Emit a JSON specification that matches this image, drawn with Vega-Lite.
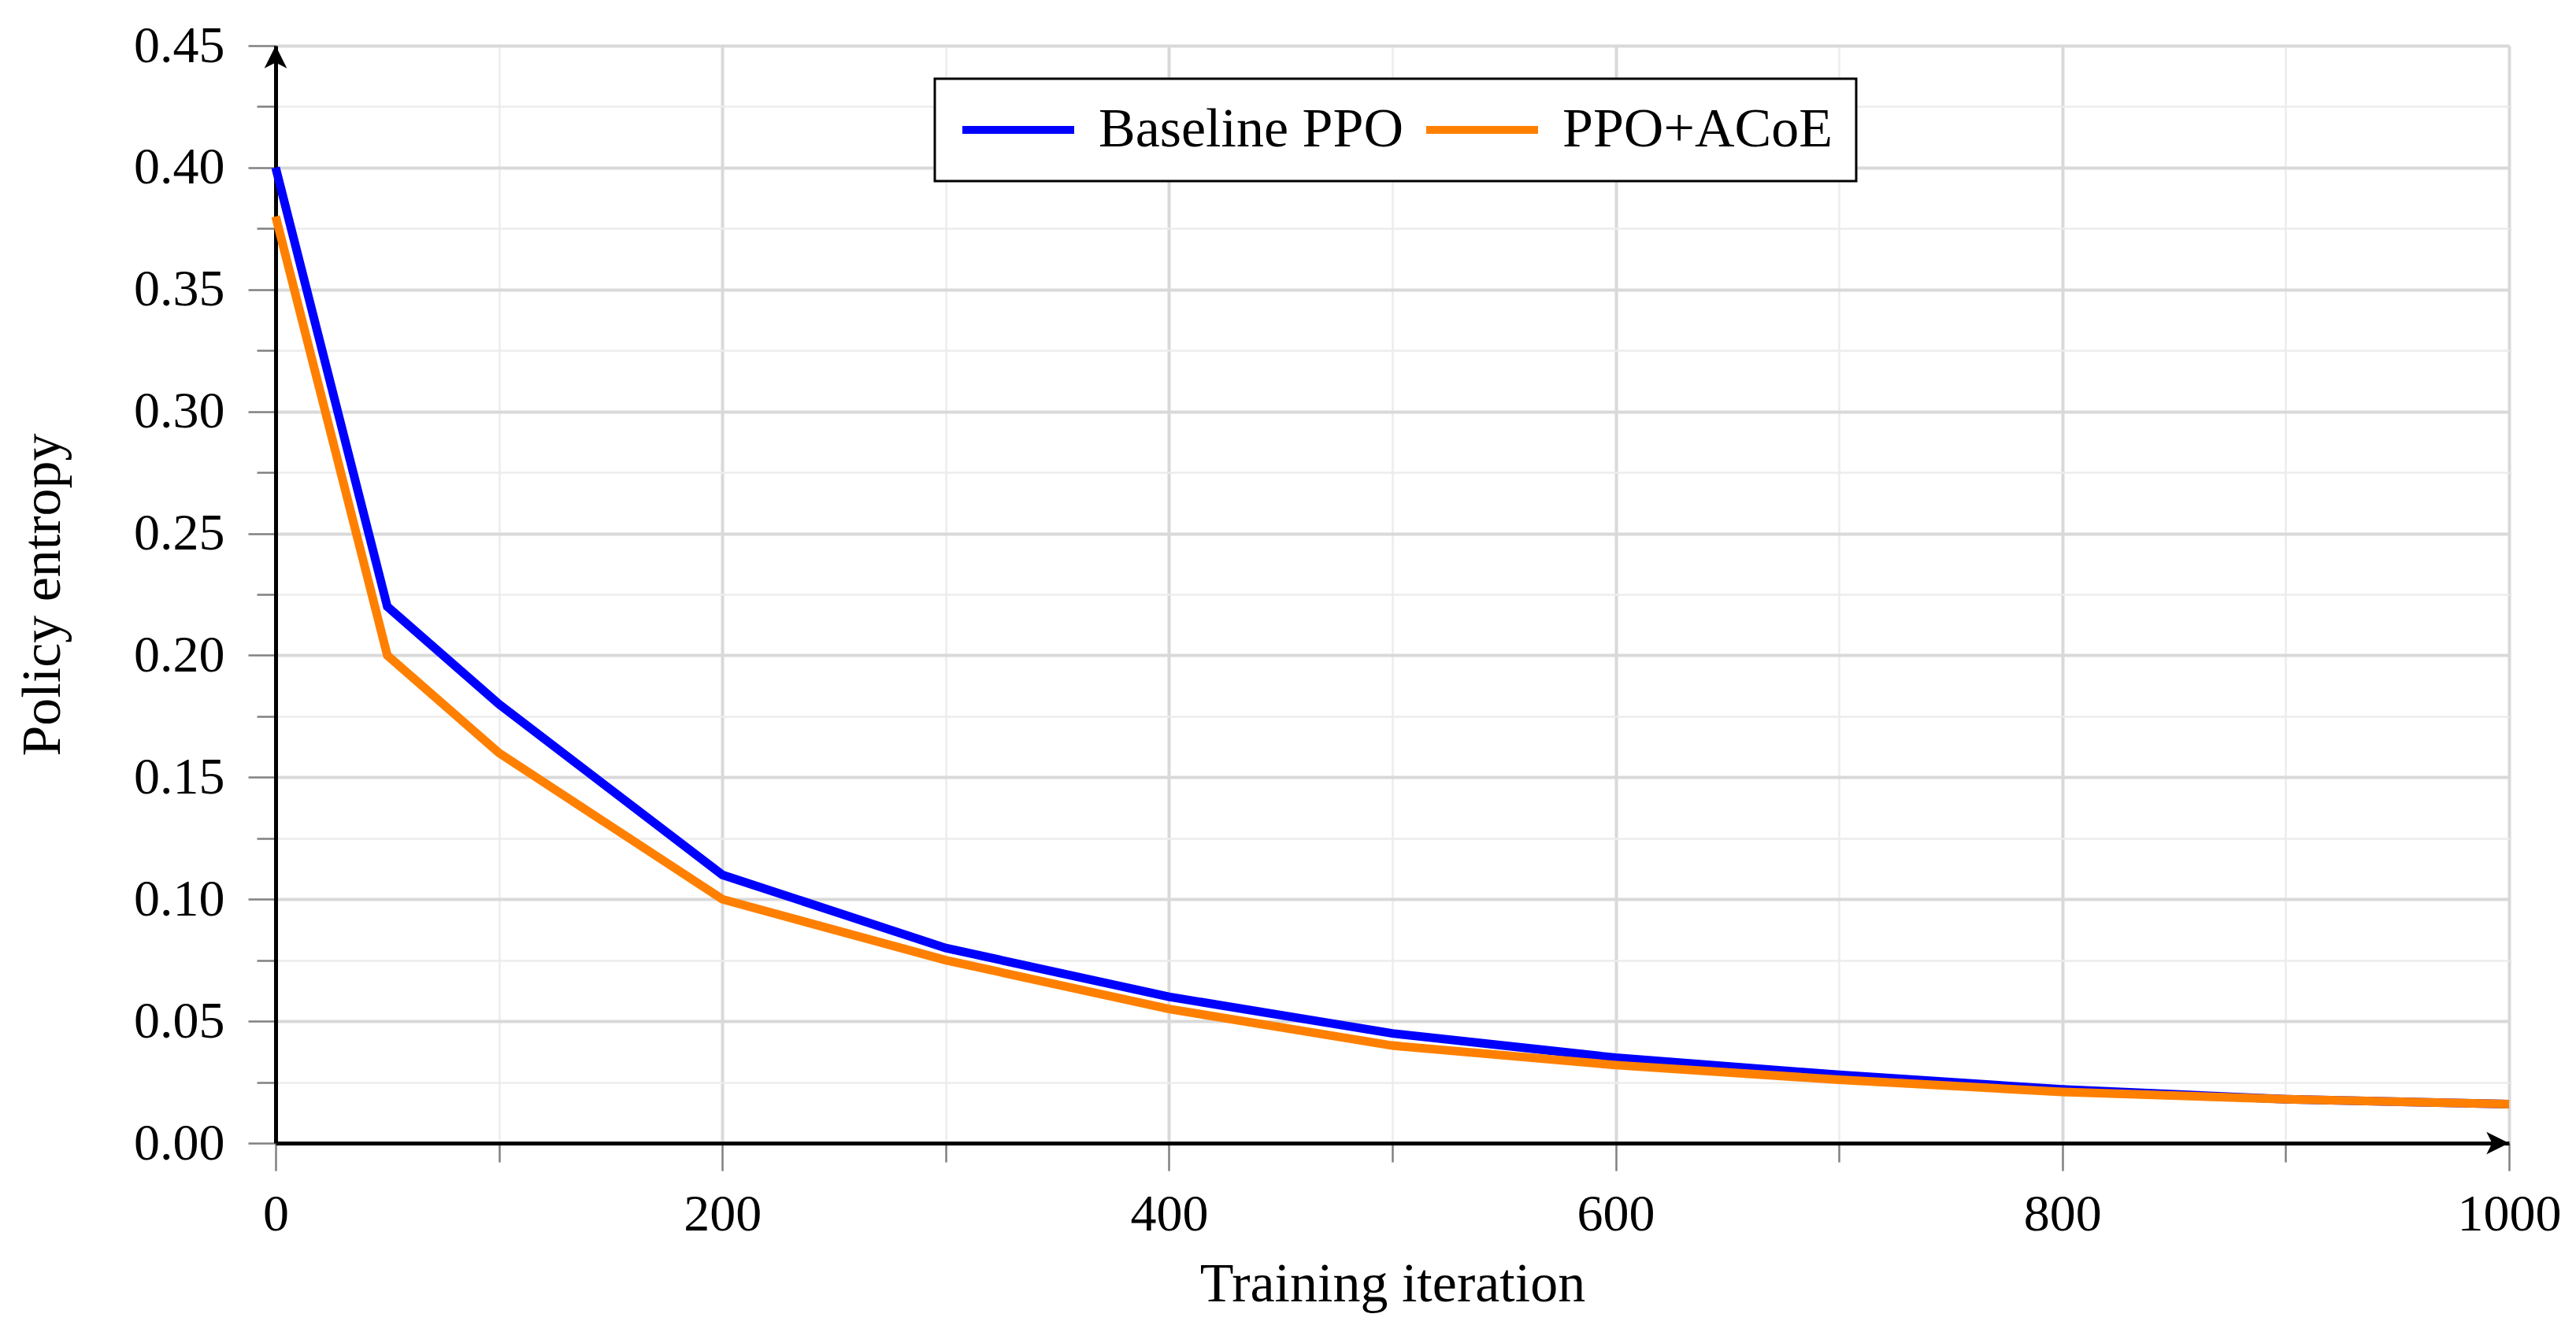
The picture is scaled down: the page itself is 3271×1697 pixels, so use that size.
{
  "$schema": "https://vega.github.io/schema/vega-lite/v6.json",
  "autosize": {"type": "none"},
  "width": 2836,
  "height": 1394,
  "padding": {"left": 350, "top": 58, "right": 85, "bottom": 245},
  "background": "white",
  "config": {
    "font": "Liberation Serif",
    "view": {"stroke": null},
    "axis": {
      "domainColor": "black",
      "domainWidth": 5,
      "tickColor": "#808080",
      "tickWidth": 2.5,
      "labelFont": "Liberation Serif",
      "labelFontSize": 66,
      "labelColor": "black",
      "titleFont": "Liberation Serif",
      "titleFontSize": 70,
      "titleFontWeight": "normal",
      "titleColor": "black",
      "labelFlush": false,
      "labelOverlap": false
    }
  },
  "layer": [
    {
      "data": {
        "values": [
          {"iteration": 0, "entropy": 0.40, "method": "Baseline PPO"},
          {"iteration": 50, "entropy": 0.22, "method": "Baseline PPO"},
          {"iteration": 100, "entropy": 0.18, "method": "Baseline PPO"},
          {"iteration": 200, "entropy": 0.11, "method": "Baseline PPO"},
          {"iteration": 300, "entropy": 0.08, "method": "Baseline PPO"},
          {"iteration": 400, "entropy": 0.06, "method": "Baseline PPO"},
          {"iteration": 500, "entropy": 0.045, "method": "Baseline PPO"},
          {"iteration": 600, "entropy": 0.035, "method": "Baseline PPO"},
          {"iteration": 700, "entropy": 0.028, "method": "Baseline PPO"},
          {"iteration": 800, "entropy": 0.022, "method": "Baseline PPO"},
          {"iteration": 900, "entropy": 0.018, "method": "Baseline PPO"},
          {"iteration": 1000, "entropy": 0.016, "method": "Baseline PPO"},
          {"iteration": 0, "entropy": 0.38, "method": "PPO+ACoE"},
          {"iteration": 50, "entropy": 0.20, "method": "PPO+ACoE"},
          {"iteration": 100, "entropy": 0.16, "method": "PPO+ACoE"},
          {"iteration": 200, "entropy": 0.10, "method": "PPO+ACoE"},
          {"iteration": 300, "entropy": 0.075, "method": "PPO+ACoE"},
          {"iteration": 400, "entropy": 0.055, "method": "PPO+ACoE"},
          {"iteration": 500, "entropy": 0.040, "method": "PPO+ACoE"},
          {"iteration": 600, "entropy": 0.032, "method": "PPO+ACoE"},
          {"iteration": 700, "entropy": 0.026, "method": "PPO+ACoE"},
          {"iteration": 800, "entropy": 0.021, "method": "PPO+ACoE"},
          {"iteration": 900, "entropy": 0.018, "method": "PPO+ACoE"},
          {"iteration": 1000, "entropy": 0.016, "method": "PPO+ACoE"}
        ]
      },
      "mark": {"type": "line", "strokeWidth": 11, "strokeJoin": "miter"},
      "encoding": {
        "x": {
          "field": "iteration",
          "type": "quantitative",
          "scale": {"domain": [0, 1000], "nice": false, "zero": false},
          "axis": {
            "title": "Training iteration",
            "values": [0, 100, 200, 300, 400, 500, 600, 700, 800, 900, 1000],
            "labelExpr": "datum.value % 200 == 0 ? format(datum.value, 'd') : ''",
            "labelPadding": 23,
            "tickSize": {"condition": {"test": "datum.value % 200 == 0", "value": 35}, "value": 24},
            "gridColor": {"condition": {"test": "datum.value % 200 == 0", "value": "#d9d9d9"}, "value": "#ececec"},
            "gridWidth": {"condition": {"test": "datum.value % 200 == 0", "value": 4}, "value": 2.5},
            "titleY": 200,
            "titleBaseline": "alphabetic"
          }
        },
        "y": {
          "field": "entropy",
          "type": "quantitative",
          "scale": {"domain": [0, 0.45], "nice": false, "zero": false},
          "axis": {
            "title": "Policy entropy",
            "values": [0, 0.025, 0.05, 0.075, 0.1, 0.125, 0.15, 0.175, 0.2, 0.225, 0.25, 0.275, 0.3, 0.325, 0.35, 0.375, 0.4, 0.425, 0.45],
            "labelExpr": "round(datum.value * 40) % 2 == 0 ? format(datum.value, '.2f') : ''",
            "labelPadding": 30,
            "tickSize": {"condition": {"test": "round(datum.value * 40) % 2 == 0", "value": 35}, "value": 24},
            "gridColor": {"condition": {"test": "round(datum.value * 40) % 2 == 0", "value": "#d9d9d9"}, "value": "#ececec"},
            "gridWidth": {"condition": {"test": "round(datum.value * 40) % 2 == 0", "value": 4}, "value": 2.5},
            "titleX": -275,
            "titleY": 697,
            "titleAngle": -90,
            "titleAlign": "center",
            "titleBaseline": "alphabetic"
          }
        },
        "color": {
          "field": "method",
          "type": "nominal",
          "scale": {"domain": ["Baseline PPO", "PPO+ACoE"], "range": ["#0000ff", "#ff8000"]},
          "legend": {
            "title": null,
            "orient": "none",
            "legendX": 837,
            "legendY": 42,
            "direction": "horizontal",
            "symbolType": "stroke",
            "symbolSize": 20164,
            "symbolStrokeWidth": 10,
            "clipHeight": 70,
            "labelFont": "Liberation Serif",
            "labelFontSize": 70,
            "labelLimit": 2000,
            "labelColor": "black",
            "labelOffset": 26,
            "columnPadding": 24,
            "padding": 30,
            "fillColor": "white",
            "strokeColor": "black",
            "encode": {"legend": {"update": {"strokeWidth": {"value": 3}}}}
          }
        }
      }
    },
    {
      "data": {"values": [{}]},
      "mark": {"type": "point", "shape": "M0,0 L-0.5,1 L0,0.75 L0.5,1 Z", "filled": true, "color": "black", "opacity": 1, "size": 3300, "strokeWidth": 0},
      "encoding": {"x": {"datum": 0, "type": "quantitative"}, "y": {"datum": 0.45, "type": "quantitative"}}
    },
    {
      "data": {"values": [{}]},
      "mark": {"type": "point", "shape": "M0,0 L-1,-0.5 L-0.75,0 L-1,0.5 Z", "filled": true, "color": "black", "opacity": 1, "size": 3300, "strokeWidth": 0},
      "encoding": {"x": {"datum": 1000, "type": "quantitative"}, "y": {"datum": 0, "type": "quantitative"}}
    }
  ]
}
